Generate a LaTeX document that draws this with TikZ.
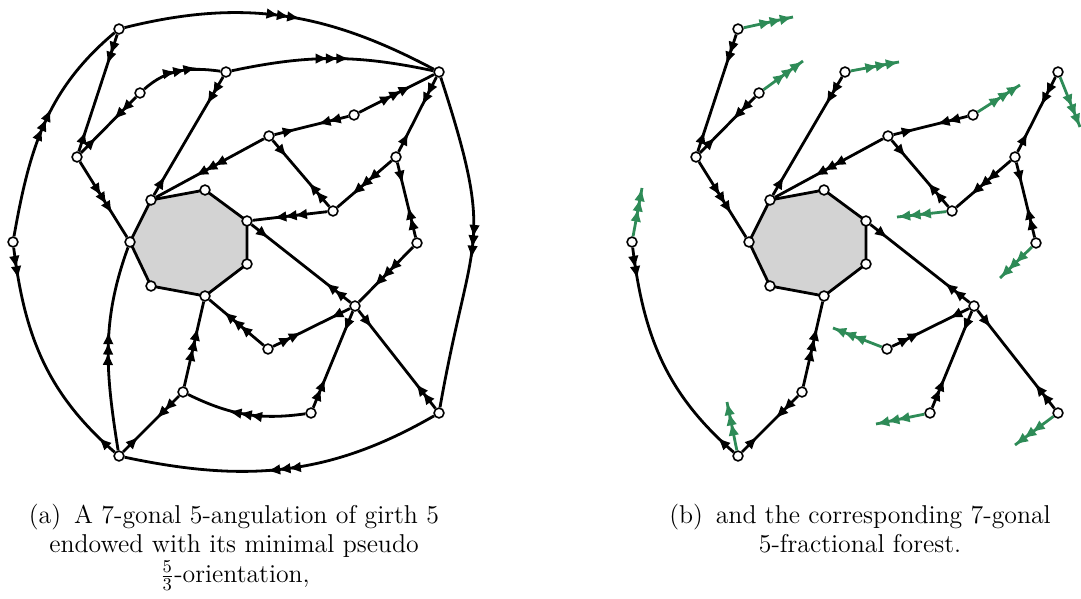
\documentclass[tikz,border=0pt]{standalone}
\usepackage{fontspec}
\usetikzlibrary{arrows.meta,decorations.markings}
\pgfdeclarelayer{bg}
\pgfsetlayers{bg,main}
\definecolor{fgreen}{RGB}{46,139,87}
\definecolor{hept}{RGB}{211,211,211}
\newcommand\Hd{\arrow{Latex[length=6.6pt,width=5.4pt]}}
\newcommand\HdR{\arrowreversed{Latex[length=6.6pt,width=5.4pt]}}
\newcommand\fwdA{\Hd}
\newcommand\fwdB{\Hd\pgftransformxshift{-5.2pt}\Hd}
\newcommand\fwdC{\Hd\pgftransformxshift{-5.2pt}\Hd\pgftransformxshift{-5.2pt}\Hd}
\newcommand\revA{\HdR}
\newcommand\revB{\HdR\pgftransformxshift{5.2pt}\HdR}
\tikzset{
  vtx/.style={circle,draw=black,fill=white,line width=0.8pt,minimum size=4.9pt,inner sep=0pt},
  edg/.style={line width=1.4pt,draw=black},
  wIII/.style={edg,postaction={decorate,decoration={markings,mark=at position 0.5 with {\pgftransformxshift{8.5pt}\fwdC}}}},
  wIo/.style={edg,postaction={decorate,decoration={markings,mark=at position 11pt with {\fwdA},mark=at position -16pt with {\revB}}}},
  wIIo/.style={edg,postaction={decorate,decoration={markings,mark=at position 16pt with {\fwdB},mark=at position -11pt with {\revA}}}},
  stub/.style={line width=1.4pt,color=fgreen,postaction={decorate,decoration={markings,mark=at position 1 with {\fwdC}}}},
  captxt/.style={font=\fontsize{12.9}{15}\selectfont,inner sep=0pt,anchor=base},
}
\newcommand\verts[1]{%
  \node[vtx] (#1A) at (119,29) {};
  \node[vtx] (#1B) at (439,72) {};
  \node[vtx] (#1C) at (226,72) {};
  \node[vtx] (#1D) at (140,93) {};
  \node[vtx] (#1E) at (77,157) {};
  \node[vtx] (#1F) at (13,242) {};
  \node[vtx] (#1G) at (269,136) {};
  \node[vtx] (#1H) at (354,115) {};
  \node[vtx] (#1I) at (396,157) {};
  \node[vtx] (#1J) at (333,211) {};
  \node[vtx] (#1K) at (417,243) {};
  \node[vtx] (#1M) at (355,306) {};
  \node[vtx] (#1N) at (268,349) {};
  \node[vtx] (#1O) at (183,392) {};
  \node[vtx] (#1P) at (311,413) {};
  \node[vtx] (#1Q) at (439,413) {};
  \node[vtx] (#1R) at (119,456) {};
  \node[vtx] (#1h1) at (151,200) {};
  \node[vtx] (#1h2) at (205,190) {};
  \node[vtx] (#1h3) at (247,221) {};
  \node[vtx] (#1h4) at (247,264) {};
  \node[vtx] (#1h5) at (205,296) {};
  \node[vtx] (#1h6) at (151,286) {};
  \node[vtx] (#1h7) at (130,242) {};
  \begin{pgfonlayer}{bg}
    \draw[edg,fill=hept] (#1h1.center) -- (#1h2.center) -- (#1h3.center) -- (#1h4.center)
      -- (#1h5.center) -- (#1h6.center) -- (#1h7.center) -- cycle;
  \end{pgfonlayer}
}
\begin{document}
\begin{tikzpicture}[x=0.5pt,y=-0.5pt]
\useasboundingbox (0,0) rectangle (1081,599);
% ---------- (a) ----------
\verts{l}
\draw[wIII] (lA) to[out=14,in=152] (lB);
\draw[wIII] (lF) to[out=80,in=-140] (lA);
\draw[wIIo] (lA) -- (lE);
\draw[wIIo] (lF) to[out=-83,in=139] (lR);
\draw[wIII] (lQ) to[out=-150,in=-12] (lR);
\draw[wIII] (lB) to[out=-72,in=80,looseness=1.4] (lQ);
\draw[wIII] (lR) to[out=99,in=-110] (lh7);
\draw[wIo] (lR) -- (lO);
\draw[wIII] (lC) to[out=12,in=168] (lB);
\draw[wIII] (lD) to[out=42,in=172] (lC);
\draw[wIIo] (lC) -- (lh1);
\draw[wIIo] (lD) -- (lE);
\draw[wIII] (lE) -- (lh7);
\draw[wIII] (lG) -- (lh1);
\draw[wIo] (lG) -- (lH);
\draw[wIo] (lG) -- (lJ);
\draw[wIII] (lH) -- (lB);
\draw[wIIo] (lB) -- (lI);
\draw[wIII] (lI) -- (lJ);
\draw[wIo] (lI) -- (lK);
\draw[wIII] (lJ) -- (lh3);
\draw[wIII] (lK) -- (lM);
\draw[wIo] (lM) -- (lQ);
\draw[wIIo] (lM) -- (lh3);
\draw[wIo] (lM) -- (lN);
\draw[wIo] (lM) -- (lP);
\draw[wIII] (lN) -- (lh5);
\draw[wIII] (lP) to[out=-172,in=-26] (lO);
\draw[wIII] (lO) -- (lh5);
% ---------- (b) ----------
\begin{scope}[xshift=309.5pt]
\verts{r}
\coordinate (sA) at (174,17);
\coordinate (sD) at (184,61);
\coordinate (sC) at (280,62);
\coordinate (sH) at (401,85);
\coordinate (sB) at (461,127);
\coordinate (sJ) at (278,217);
\coordinate (sK) at (381,278);
\coordinate (sN) at (214,328);
\coordinate (sP) at (257,424);
\coordinate (sQ) at (396,445);
\coordinate (sF) at (23,188);
\coordinate (sR) at (108,402);
\draw[wIIo] (rA) -- (rE);
\draw[wIIo] (rF) to[out=-83,in=139] (rR);
\draw[wIo] (rR) -- (rO);
\draw[wIIo] (rC) -- (rh1);
\draw[wIIo] (rD) -- (rE);
\draw[wIII] (rE) -- (rh7);
\draw[wIII] (rG) -- (rh1);
\draw[wIo] (rG) -- (rH);
\draw[wIo] (rG) -- (rJ);
\draw[wIIo] (rB) -- (rI);
\draw[wIII] (rI) -- (rJ);
\draw[wIo] (rI) -- (rK);
\draw[wIo] (rM) -- (rQ);
\draw[wIIo] (rM) -- (rh3);
\draw[wIo] (rM) -- (rN);
\draw[wIo] (rM) -- (rP);
\draw[wIII] (rO) -- (rh5);
\draw[stub] (rA) -- (sA);
\draw[stub] (rD) -- (sD);
\draw[stub] (rC) -- (sC);
\draw[stub] (rH) -- (sH);
\draw[stub] (rB) -- (sB);
\draw[stub] (rJ) -- (sJ);
\draw[stub] (rK) -- (sK);
\draw[stub] (rN) -- (sN);
\draw[stub] (rP) -- (sP);
\draw[stub] (rQ) -- (sQ);
\draw[stub] (rF) -- (sF);
\draw[stub] (rR) -- (sR);
\end{scope}
% ---------- captions ----------
\node[captxt] (ca1) at (234,523) {(a)\enspace A 7-gonal 5-angulation of girth 5};
\node[captxt] (ca2) at (234,552) {endowed with its minimal pseudo};
\node[captxt] (ca3) at (235,582) {$\frac{5}{3}$-orientation,};
\node[captxt] (cb1) at (860,523) {(b)\enspace and the corresponding 7-gonal};
\node[captxt] (cb2) at (860,552) {5-fractional forest.};
\end{tikzpicture}
\end{document}
